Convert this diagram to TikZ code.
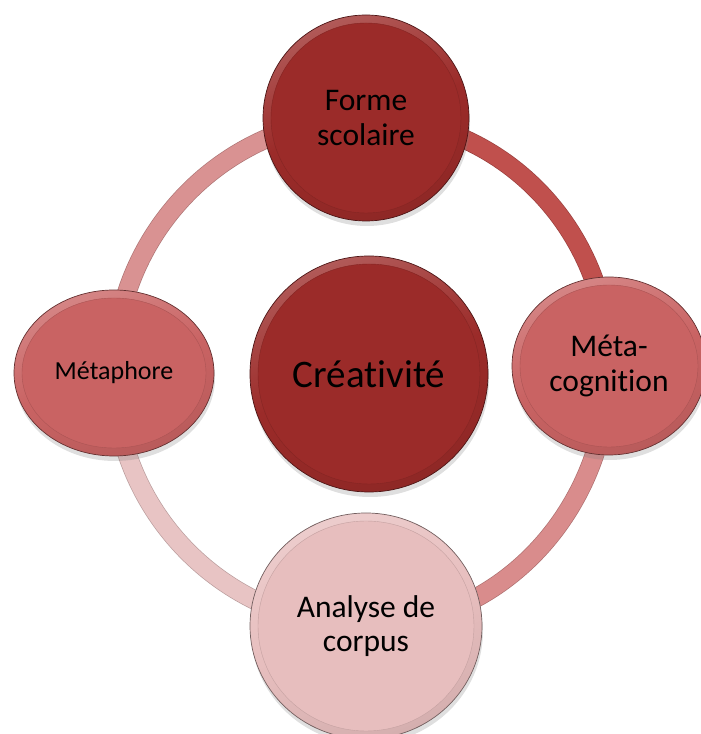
\documentclass[tikz,border=0pt]{standalone}
\usepackage{fontspec}
\setmainfont{Carlito}[Ligatures=NoCommon]
\usepackage{tikz}
\usetikzlibrary{shapes.geometric, shadows, calc, backgrounds}

\definecolor{rougeFonce}{HTML}{9B2B29}
\definecolor{rougeMoyen}{HTML}{C96363}
\definecolor{rosePale}{HTML}{E7BEBE}
\definecolor{anneauA}{HTML}{C0504D}
\definecolor{anneauB}{HTML}{D98C8C}
\definecolor{anneauC}{HTML}{E8C4C4}
\definecolor{anneauD}{HTML}{D99292}

\begin{document}
\begin{tikzpicture}[x=1pt,y=1pt]

% Stili: bolle in rilievo e anello
\tikzset{
  bulle/.style={ellipse, inner sep=0pt, align=center, text=black,
    draw=#1!50!black, line width=0.7pt,
    top color=#1!78!white, bottom color=#1!92!black, middle color=#1,
    shading angle=20,
    drop shadow={opacity=.25, shadow xshift=1pt, shadow yshift=-5pt},
    path picture={
      \fill[#1, draw=#1!85!black, line width=.4pt]
        let \p1=($(path picture bounding box.north east)-(path picture bounding box.center)$)
        in (path picture bounding box.center) ellipse[x radius=\x1-8pt, y radius=\y1-8pt];
    }},
  anneau/.style={draw=#1!80!black, double=#1, double distance=18pt, line width=0.7pt},
  grand/.style={font=\fontsize{39}{46}\selectfont},
  moyen/.style={font=\fontsize{31.5}{34.6}\selectfont},
  petit/.style={font=\fontsize{26}{30}\selectfont}
}

\useasboundingbox (0,0) rectangle (701,734);

% --- Bolle ---
\node[bulle=rougeFonce, grand, minimum width=238, minimum height=236] (creativite) at (369,360) {Créativité};
\node[bulle=rougeFonce, moyen, minimum width=206, minimum height=206] (haut) at (366,616) {Forme\\scolaire};
\node[bulle=rougeMoyen, moyen, minimum width=194, minimum height=178] (droite) at (609,368) {Méta-\\cognition};
\node[bulle=rosePale, moyen, minimum width=232, minimum height=226] (bas) at (366,108) {Analyse de\\corpus};
\node[bulle=rougeMoyen, petit, minimum width=200, minimum height=166] (gauche) at (114,361) {Métaphore};

% --- Anello dietro le bolle ---
\begin{pgfonlayer}{background}
  \draw[anneau=anneauA] (haut.center) arc[start angle=90, end angle=0, x radius=243, y radius=248];
  \draw[anneau=anneauB] (droite.center) arc[start angle=0, end angle=-90, x radius=243, y radius=260];
  \draw[anneau=anneauC] (bas.center) arc[start angle=-90, end angle=-180, x radius=252, y radius=253];
  \draw[anneau=anneauD] (gauche.center) arc[start angle=180, end angle=90, x radius=252, y radius=255];
\end{pgfonlayer}

\end{tikzpicture}
\end{document}
